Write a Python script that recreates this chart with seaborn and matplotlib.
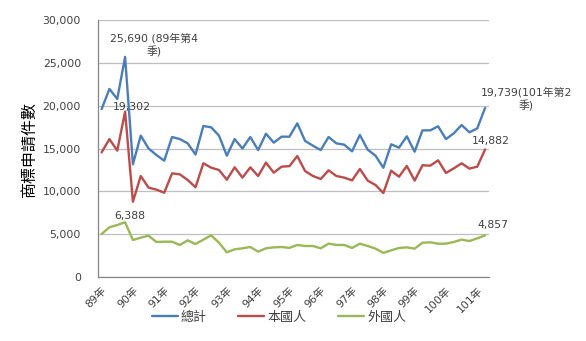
import matplotlib
matplotlib.use("Agg")
import matplotlib.pyplot as plt
import seaborn as sns
import pandas as pd
import numpy as np

# ---- data ----
years = ["89年", "90年", "91年", "92年", "93年", "94年", "95年", "96年", "97年", "98年", "99年", "100年", "101年"]
series_names = ["總計", "本國人", "外國人"]
total = [19600, 21950, 20780, 25690, 13150, 16500, 15000, 14240, 13580, 16340,
         16100, 15600, 14300, 17630, 17470, 16500, 14160, 16100, 15000, 16340,
         14820, 16730, 15680, 16380, 16380, 17940, 15880, 15330, 14820, 16340,
         15600, 15450, 14670, 16580, 14860, 14160, 12750, 15490, 15100, 16420,
         14630, 17120, 17120, 17590, 16100, 16770, 17740, 16890, 17350, 19739]
domestic = [14550, 16100, 14750, 19302, 8790, 11790, 10430, 10200, 9840, 12100,
            11980, 11320, 10480, 13270, 12760, 12490, 11360, 12800, 11600, 12800,
            11790, 13350, 12180, 12880, 12940, 14120, 12370, 11790, 11440, 12450,
            11790, 11600, 11280, 12610, 11250, 10740, 9800, 12410, 11710, 12960,
            11250, 13040, 13000, 13620, 12140, 12680, 13270, 12650, 12880, 14882]
foreign = [5020, 5800, 6070, 6388, 4320, 4590, 4820, 4090, 4120, 4120,
           3740, 4280, 3850, 4360, 4860, 4000, 2880, 3230, 3350, 3500,
           2960, 3350, 3460, 3500, 3400, 3740, 3620, 3620, 3350, 3890,
           3740, 3740, 3390, 3890, 3620, 3310, 2820, 3110, 3390, 3460,
           3310, 4000, 4050, 3890, 3890, 4090, 4360, 4200, 4510, 4857]
y_ticks = [0, 5000, 10000, 15000, 20000, 25000, 30000]

colors = {"總計": "#4A7EBB", "本國人": "#BE4B48", "外國人": "#98B954"}
text_col = "#404040"

n = len(total)
q = np.arange(n)
df = pd.DataFrame({
    "q": np.concatenate([q, q, q]),
    "value": total + domestic + foreign,
    "series": [series_names[0]] * n + [series_names[1]] * n + [series_names[2]] * n,
})

sns.set_style("white")
plt.rcParams["font.family"] = ["DejaVu Sans", "Noto Sans CJK TC"]

fig = plt.figure(figsize=(5.86, 3.41), dpi=100)
ax = fig.add_axes([97.7 / 586, 1 - 277 / 341, (489 - 97.7) / 586, (277 - 20) / 341])

sns.lineplot(data=df, x="q", y="value", hue="series", hue_order=series_names,
             palette=colors, linewidth=1.7, ax=ax, legend=True)

ax.set_xlim(-0.5, n - 0.5)
ax.set_ylim(0, 30000)
ax.set_yticks(y_ticks)
ax.set_yticklabels([f"{v:,}" for v in y_ticks], fontsize=7.8, color=text_col)
ax.tick_params(axis="y", length=0, pad=12)
ax.yaxis.grid(True, color="#BFBFBF", linewidth=0.9)
ax.set_axisbelow(True)

label_pos = np.arange(0, n, 4)
ax.set_xticks(label_pos)
ax.set_xticklabels(years[:len(label_pos)], rotation=45, ha="right",
                   rotation_mode="anchor", fontsize=7.8, color=text_col)
ax.set_xticks(np.arange(-0.5, n - 1, 4), minor=True)
ax.tick_params(axis="x", which="major", length=0, pad=6)
ax.tick_params(axis="x", which="minor", length=4, color="#868686", direction="out")

for side in ["top", "right"]:
    ax.spines[side].set_visible(False)
for side in ["left", "bottom"]:
    ax.spines[side].set_color("#868686")
    ax.spines[side].set_linewidth(0.9)

ax.set_xlabel("")
ax.set_ylabel("")
fig.text(30 / 586, 1 - 150 / 341, "商標申請件數", rotation=90, ha="center", va="center",
         fontsize=11.5, color="#000000", family=["Noto Sans CJK TC", "DejaVu Sans"])

# annotations
def annot(idx, vals, txt, dx, dy):
    ax.annotate(txt, xy=(idx, vals[idx]), xytext=(dx, dy), textcoords="offset pixels",
                ha="center", va="center", fontsize=7.8, color=text_col,
                multialignment="center", linespacing=1.35)

imax = int(np.argmax(total))
annot(imax, total, f"{total[imax]:,} (89年第4\n季)", 29, 12)
annot(imax, domestic, f"{domestic[imax]:,}", 7, 5)
annot(imax, foreign, f"{foreign[imax]:,}", 5, 6)
annot(n - 1, total, f"{total[-1]:,}(101年第2\n季)", 41, 9)
annot(n - 1, domestic, f"{domestic[-1]:,}", 6, 9)
annot(n - 1, foreign, f"{foreign[-1]:,}", 8, 10)

# legend
handles, labels = ax.get_legend_handles_labels()
ax.legend_.remove()
fig.legend(handles, labels, loc="center", bbox_to_anchor=(279 / 586, 1 - 317 / 341),
           ncol=3, frameon=False, fontsize=9.4, handlelength=2.0, handletextpad=0.25,
           columnspacing=2.4, labelcolor=text_col)

fig.savefig("out.png", dpi=100)
